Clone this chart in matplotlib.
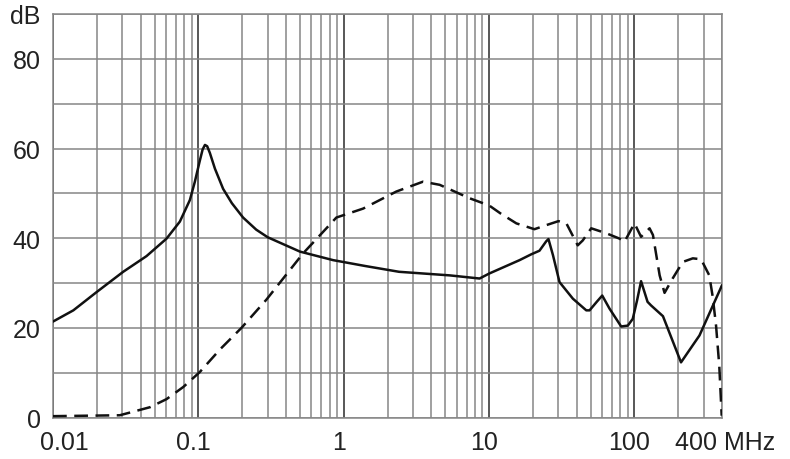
import matplotlib
matplotlib.use("Agg")
import matplotlib.pyplot as plt
import numpy as np
from matplotlib.transforms import ScaledTranslation

plt.rcParams['font.family'] = ['Liberation Sans', 'DejaVu Sans']

# ---- data (MHz, dB) ----
solid_f = [0.01, 0.0138, 0.02, 0.0304, 0.044, 0.0604, 0.0746, 0.0874, 0.0946, 0.102,
           0.107, 0.111, 0.115, 0.120, 0.130, 0.148, 0.170, 0.203, 0.25, 0.30,
           0.50, 0.845, 1.4, 2.4, 5.36, 8.6, 10.0, 16.2, 19.5, 22.2,
           24.7, 25.6, 27.5, 30.5, 37.7, 46.6, 49.1, 55.0, 60.0, 67.3,
           81.0, 90.0, 97.3, 104.0, 111.0, 123.0, 130.0, 157.0, 209.0, 280.0,
           400.0]
solid_db = [21.4, 23.9, 28.0, 32.5, 36.0, 39.9, 43.7, 48.5, 52.6, 57.1,
            59.8, 60.8, 60.5, 59.0, 55.5, 51.0, 47.8, 44.6, 41.9, 40.2,
            37.0, 35.1, 33.8, 32.5, 31.7, 31.0, 32.1, 35.1, 36.4, 37.2,
            39.3, 39.8, 36.2, 30.2, 26.5, 23.9, 23.9, 25.8, 27.2, 24.3,
            20.3, 20.5, 22.0, 26.0, 30.4, 25.8, 25.0, 22.6, 12.3, 18.3,
            29.5]

dash_f = [0.01, 0.0288, 0.0376, 0.0465, 0.0604, 0.0787, 0.102, 0.141, 0.198, 0.294,
          0.525, 0.89, 1.36, 2.30, 3.51, 4.57, 7.34, 10.0, 12.0, 15.4,
          20.5, 24.7, 30.0, 34.0, 40.7, 44.1, 50.4, 63.9, 78.9, 85.4,
          100.0, 111.0, 127.0, 134.0, 149.0, 161.0, 183.0, 215.0, 252.0, 287.0,
          327.0, 345.0, 364.0, 383.0, 398.0]
dash_db = [0.3, 0.5, 1.5, 2.3, 4.1, 6.8, 10.1, 15.2, 20.0, 26.3,
           36.6, 44.6, 46.6, 50.4, 52.6, 51.9, 48.9, 47.3, 45.5, 43.3,
           42.0, 42.9, 43.8, 43.3, 38.4, 39.5, 42.2, 41.1, 39.9, 39.2,
           43.3, 40.3, 42.2, 40.7, 31.7, 27.8, 31.0, 34.7, 35.5, 35.3,
           31.7, 27.0, 20.5, 11.6, 0.4]

x_ticks = [0.01, 0.1, 1, 10, 100, 400]
x_labels = ['0.01', '0.1', '1', '10', '100', '400 MHz']
y_ticks = [0, 20, 40, 60, 80, 90]
y_labels = ['0', '20', '40', '60', '80', 'dB']

fig = plt.figure(figsize=(7.9, 4.6), dpi=100)
ax = fig.add_axes([53/790, (460-418.5)/460, (722-53)/790, (418.5-15)/460])

ax.set_xscale('log')
ax.set_xlim(0.01, 400)
ax.set_ylim(0, 90)

# grid
grid_c = '#868686'
for dec in [0.01, 0.1, 1, 10, 100]:
    for m in range(1, 10):
        v = dec * m
        if v > 400:
            break
        dark = (m == 1)
        ax.axvline(v, color='#4a4a4a' if dark else grid_c, lw=1.3 if dark else 1.1, zorder=1)
for yv in range(0, 91, 10):
    ax.axhline(yv, color=grid_c, lw=1.1, zorder=1)

for s in ax.spines.values():
    s.set_color(grid_c)
    s.set_linewidth(1.1)

ax.plot(solid_f, solid_db, color='#111111', lw=1.8, zorder=3,
        solid_joinstyle='round', solid_capstyle='round')
ax.plot(dash_f, dash_db, color='#111111', lw=1.8, zorder=3, dashes=(5.5, 3))

ax.set_xticks(x_ticks)
ax.set_xticklabels(x_labels)
ax.xaxis.set_minor_locator(matplotlib.ticker.NullLocator())
ax.set_yticks(y_ticks)
ax.set_yticklabels(y_labels)
ax.tick_params(axis='both', length=0, labelsize=18, colors='#222222')
ax.tick_params(axis='x', pad=9)
ax.tick_params(axis='y', pad=9)

labs = ax.get_xticklabels()
labs[0].set_transform(labs[0].get_transform() + ScaledTranslation(11/100, 0, fig.dpi_scale_trans))
for i in range(1, 5):
    labs[i].set_transform(labs[i].get_transform() + ScaledTranslation(-5/100, 0, fig.dpi_scale_trans))
labs[5].set_transform(labs[5].get_transform() + ScaledTranslation(3/100, 0, fig.dpi_scale_trans))

fig.savefig('out.png', dpi=100)
